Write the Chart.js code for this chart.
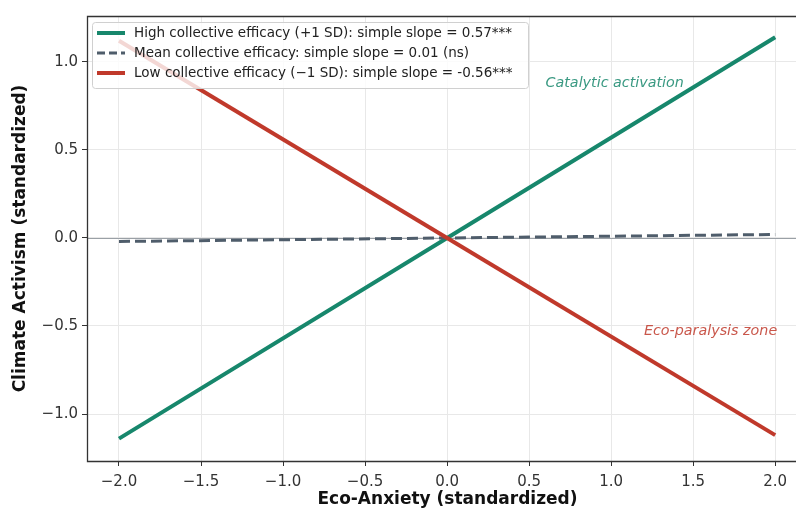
<!DOCTYPE html>
<html>
<head>
<meta charset="utf-8">
<script src="https://cdn.jsdelivr.net/npm/chart.js@4.4.0/dist/chart.umd.min.js"></script>
<style>
  html, body { margin: 0; padding: 0; background: #fff; overflow: hidden; width: 796px; height: 510px; }
  #wrap { width: 820px; height: 510px; position: relative; }
  canvas { display: block; width: 820px; height: 510px; }
</style>
</head>
<body>
<div id="wrap"><canvas id="c" width="820" height="510"></canvas></div>
<script>
// ---- Data ----
const ecoAnxiety = [-2.0, 0.0, 2.0];
const highEfficacy = [-1.14, 0.0, 1.14];
const meanEfficacy = [-0.02, 0.0, 0.02];
const lowEfficacy = [1.12, 0.0, -1.12];
const seriesLabels = [
  'High collective efficacy (+1 SD): simple slope = 0.57***',
  'Mean collective efficacy: simple slope = 0.01 (ns)',
  'Low collective efficacy (\u22121 SD): simple slope = -0.56***'
];
const xTickValues = [-2.0, -1.5, -1.0, -0.5, 0.0, 0.5, 1.0, 1.5, 2.0];
const yTickValues = [-1.0, -0.5, 0.0, 0.5, 1.0];
const annotationTexts = ['Catalytic activation', 'Eco-paralysis zone'];
const annotationX = [0.6, 1.2];
const annotationY = [0.88, -0.53];

const GREEN = '#17876c';
const SLATE = '#4f5d6b';
const RED = '#c0392b';
const FONT = "'DejaVu Sans', sans-serif";

const toPts = (ys) => ecoAnxiety.map((x, i) => ({x, y: ys[i]}));
const fmt = (v) => v.toFixed(1).replace('-', '\u2212');

const styles = [
  {color: GREEN, width: 4, dash: []},
  {color: SLATE, width: 3, dash: [8, 4]},
  {color: RED, width: 4, dash: []}
];

const bgPlugin = {
  id: 'bg',
  beforeDatasetsDraw(chart) {
    const {ctx, chartArea: a, scales: {y}} = chart;
    ctx.save();
    ctx.strokeStyle = '#9aa0a6';
    ctx.lineWidth = 1;
    const y0 = Math.round(y.getPixelForValue(0)) + 0.5;
    ctx.beginPath(); ctx.moveTo(a.left, y0); ctx.lineTo(a.right, y0); ctx.stroke();
    ctx.restore();
  },
  afterDatasetsDraw(chart) {
    const {ctx, chartArea: a, scales: {x, y}} = chart;
    ctx.save();
    // annotations
    ctx.font = "italic 14.3px " + FONT;
    ctx.textBaseline = 'middle';
    ctx.textAlign = 'left';
    const annColors = ['rgba(23,135,108,0.85)', 'rgba(192,57,43,0.85)'];
    annotationTexts.forEach((t, i) => {
      ctx.fillStyle = annColors[i];
      ctx.fillText(t, x.getPixelForValue(annotationX[i]), y.getPixelForValue(annotationY[i]));
    });
    // legend
    const lx = a.left + 5, ly = a.top + 6, lw = 436, lh = 66;
    ctx.beginPath();
    if (ctx.roundRect) ctx.roundRect(lx + 0.5, ly + 0.5, lw, lh, 3); else ctx.rect(lx + 0.5, ly + 0.5, lw, lh);
    ctx.fillStyle = 'rgba(255,255,255,0.8)';
    ctx.fill();
    ctx.strokeStyle = '#d0d0d0';
    ctx.lineWidth = 1;
    ctx.stroke();
    ctx.font = "13.5px " + FONT;
    ctx.fillStyle = '#222';
    seriesLabels.forEach((t, i) => {
      const ry = ly + 11 + i * 20;
      const s = styles[i];
      ctx.strokeStyle = s.color;
      ctx.lineWidth = s.width;
      ctx.setLineDash(s.dash);
      ctx.beginPath(); ctx.moveTo(lx + 5, ry); ctx.lineTo(lx + 33, ry); ctx.stroke();
      ctx.setLineDash([]);
      ctx.fillText(t, lx + 42, ry);
    });
    ctx.restore();
  },
  afterDraw(chart) {
    const {ctx, chartArea: a} = chart;
    const L = Math.round(a.left) + 0.5, T = Math.round(a.top) + 0.5, B = Math.round(a.bottom) + 0.5;
    ctx.save();
    ctx.strokeStyle = '#333';
    ctx.lineWidth = 1.3;
    ctx.beginPath();
    ctx.moveTo(chart.width, T); ctx.lineTo(L, T); ctx.lineTo(L, B); ctx.lineTo(chart.width, B);
    ctx.stroke();
    ctx.restore();
  }
};

new Chart(document.getElementById('c'), {
  type: 'line',
  data: {
    datasets: [
      {label: seriesLabels[0], data: toPts(highEfficacy), borderColor: GREEN, borderWidth: 4, pointRadius: 0, order: 3},
      {label: seriesLabels[1], data: toPts(meanEfficacy), borderColor: SLATE, borderWidth: 3, borderDash: [11, 5], pointRadius: 0, order: 2},
      {label: seriesLabels[2], data: toPts(lowEfficacy), borderColor: RED, borderWidth: 4, pointRadius: 0, order: 1}
    ]
  },
  options: {
    responsive: false,
    maintainAspectRatio: false,
    animation: false,
    layout: {padding: {top: 16, right: 12, left: 0, bottom: 0}},
    plugins: {legend: {display: false}, tooltip: {enabled: false}},
    scales: {
      x: {
        type: 'linear', min: -2.195, max: 2.2,
        afterFit(s) { s.height = 49; },
        afterBuildTicks(s) { s.ticks = xTickValues.map(v => ({value: v})); },
        grid: {color: '#e8e8e8', lineWidth: 1, tickColor: '#333', tickLength: 5},
        border: {display: false},
        ticks: {callback: fmt, color: '#333', font: {family: FONT, size: 15}, padding: 7, maxRotation: 0, autoSkip: false},
        title: {display: true, text: 'Eco-Anxiety (standardized)', color: '#111', font: {family: FONT, size: 17, weight: 'bold'}, padding: {top: 0, bottom: 0}}
      },
      y: {
        type: 'linear', min: -1.267, max: 1.261,
        afterFit(s) { s.width = 87; },
        afterBuildTicks(s) { s.ticks = yTickValues.map(v => ({value: v})); },
        grid: {color: '#e8e8e8', lineWidth: 1, tickColor: '#333', tickLength: 5},
        border: {display: false},
        ticks: {callback: fmt, color: '#333', font: {family: FONT, size: 15}, padding: 4, autoSkip: false},
        title: {display: true, text: 'Climate Activism (standardized)', color: '#111', font: {family: FONT, size: 17, weight: 'bold'}, padding: {top: 10, bottom: 0}}
      }
    }
  },
  plugins: [bgPlugin]
});
</script>
</body>
</html>
